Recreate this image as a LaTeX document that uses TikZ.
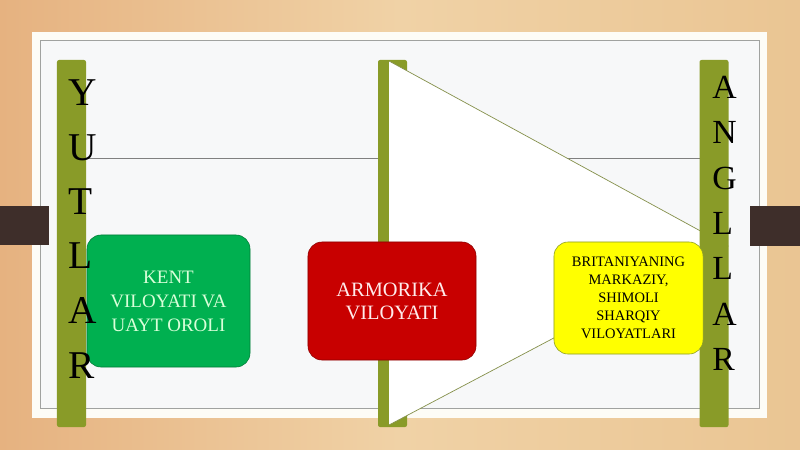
\documentclass[tikz,border=0pt]{standalone}
\usepackage{fontspec}
\setmainfont{Liberation Serif}
\definecolor{woodtan}{RGB}{234,197,147}
\definecolor{woodlight}{RGB}{240,210,166}
\definecolor{woodorange}{RGB}{230,178,128}
\definecolor{pagewhite}{RGB}{253,252,246}
\definecolor{pagegray}{RGB}{247,248,249}
\definecolor{framegray}{RGB}{160,162,160}
\definecolor{olivebar}{RGB}{137,155,40}
\definecolor{tabbrown}{RGB}{62,46,42}
\definecolor{kentgreen}{RGB}{0,176,80}
\definecolor{armred}{RGB}{200,0,0}
\definecolor{brityellow}{RGB}{255,255,0}

\tikzset{
	bar/.style={fill=olivebar, rounded corners=1.5pt, minimum width=0.725cm, minimum height=9.175cm, inner sep=0pt},
	bigletter/.style={anchor=base west, inner sep=0pt, font=\fontsize{28}{28}\selectfont},
	smallletter/.style={anchor=base west, inner sep=0pt, font=\fontsize{24}{24}\selectfont},
	region/.style={rounded corners=10pt, align=center, inner sep=0pt},
}

\begin{document}
\begin{tikzpicture}[x=0.025cm, y=-0.025cm]
	\useasboundingbox (0,0) rectangle (800,449);
	\shade[left color=woodorange, right color=woodtan, middle color=woodlight] (0,0) rectangle (800,449);

	\fill[pagewhite] (32,32) rectangle (767,418);
	\draw[framegray, fill=pagegray, line width=0.6pt] (40,40) rectangle (759,408);

	\fill[tabbrown] (0,206) rectangle (49,245);
	\fill[tabbrown] (750,206) rectangle (800,246);

	\coordinate (ruleL) at (86,158);
	\coordinate (ruleR) at (700,158);
	\draw[gray, line width=0.5pt] (ruleL) -- (ruleR);

	\node[bar] (lbar) at (71.5,243.5) {};
	\node[bar] (mbar) at (392.5,243.5) {};

	\coordinate (tritop) at (389,61);
	\coordinate (tribot) at (389,425);
	\coordinate (tritip) at (728,246);
	\fill[white] (tritop) -- (tritip) -- (tribot) -- cycle;
	\draw[olivebar!60!gray, line width=0.5pt] (tritop) -- (tritip) -- (tribot);

	\node[bar] (rbar) at (714,243.5) {};

	\node[region, draw=kentgreen!70!black, fill=kentgreen, minimum width=4.075cm, minimum height=3.3cm,
		text=green!15!white, font=\fontsize{13.5}{17}\selectfont] (kent) at (168.5,301)
		{KENT\\VILOYATI VA\\UAYT OROLI};
	\node[region, draw=armred!70!black, fill=armred, minimum width=4.2cm, minimum height=2.95cm,
		text=red!8!white, font=\fontsize{14.5}{16.5}\selectfont] (armorika) at (392,301)
		{ARMORIKA\\VILOYATI};
	\node[region, draw=olivebar, fill=brityellow, minimum width=3.725cm, minimum height=2.8cm,
		text=black, font=\fontsize{10.3}{12.8}\selectfont] (britaniya) at (628.5,298)
		{BRITANIYANING\\MARKAZIY,\\SHIMOLI\\SHARQIY\\VILOYATLARI};

	\node[bigletter] (yut1) at (68,105) {Y};
	\node[bigletter] (yut2) at (68,160) {U};
	\node[bigletter] (yut3) at (68,214) {T};
	\node[bigletter] (yut4) at (68,268) {L};
	\node[bigletter] (yut5) at (68,323) {A};
	\node[bigletter] (yut6) at (68,378) {R};

	\node[smallletter] (ang1) at (712,98) {A};
	\node[smallletter] (ang2) at (712,143) {N};
	\node[smallletter] (ang3) at (712,189) {G};
	\node[smallletter] (ang4) at (712,234) {L};
	\node[smallletter] (ang5) at (712,279) {L};
	\node[smallletter] (ang6) at (712,325) {A};
	\node[smallletter] (ang7) at (712,370) {R};
\end{tikzpicture}
\end{document}
